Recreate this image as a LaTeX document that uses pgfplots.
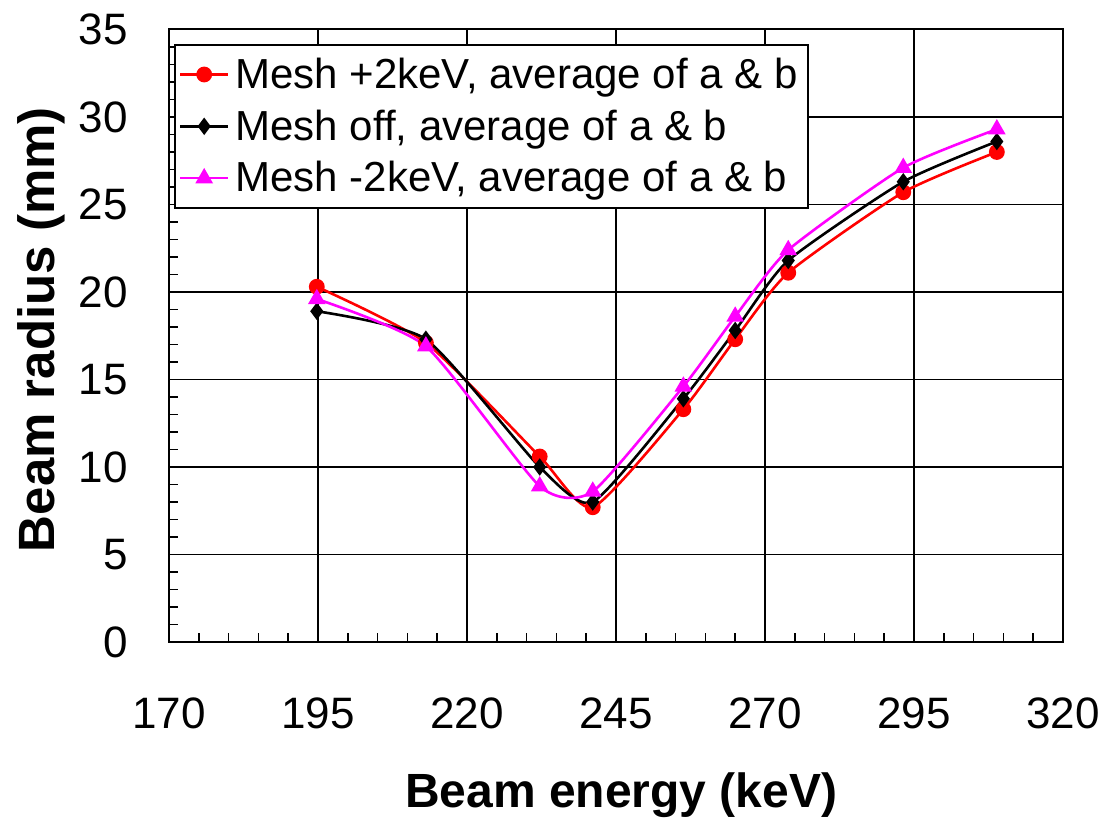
\documentclass[border=0pt]{standalone}
\usepackage{pgfplots}
\pgfplotsset{compat=1.18}
\usepackage{fontspec}
\setmainfont{Liberation Sans}
\definecolor{meshmag}{RGB}{255,0,255}
\definecolor{meshred}{RGB}{255,0,0}

\begin{document}
\begin{tikzpicture}
\begin{axis}[
	scale only axis,
	width=447pt, height=306.25pt,
	xmin=170, xmax=320, ymin=0, ymax=35,
	xtick={170,195,...,320}, ytick={0,5,...,35},
	minor x tick num=4, minor y tick num=4,
	tick pos=left, tick align=inside,
	major tick length=0pt, minor tick length=4.5pt,
	every tick/.style={black, line width=0.8pt},
	grid=major,
	major grid style={black, line width=0.7pt},
	axis line style={black, line width=1pt},
	/pgf/number format/assume math mode=true,
	tick label style={font=\fontsize{22}{26}\selectfont, inner sep=0pt},
	xticklabel shift=27.5pt,
	yticklabel shift=20.5pt,
	xlabel={Beam energy (keV)},
	ylabel={Beam radius (mm)},
	xlabel style={font=\fontsize{24}{28}\selectfont\bfseries, inner sep=0pt,
		at={(axis description cs:0.506,-0.212)}, anchor=north},
	ylabel style={font=\fontsize{25.5}{30}\selectfont\bfseries, inner sep=0pt,
		at={(axis description cs:-0.17,0.51)}, anchor=north},
	legend style={at={(axis description cs:0.0056,0.977)}, anchor=north west,
		draw=black, line width=1pt, fill=white,
		font=\fontsize{21}{25}\selectfont,
		inner sep=2pt, nodes={inner xsep=3pt, inner ysep=4.6pt}},
	legend image code/.code={
		\draw[mark repeat=2,mark phase=2] plot coordinates {(0cm,0cm) (0.42cm,0cm) (0.84cm,0cm)};},
	legend cell align=left,
]

\addplot [meshred, line width=1.3pt, smooth, tension=0.35, mark=*, mark size=3.3pt] table {
energy	radius
194.8	20.3
213.1	17.1
232.2	10.6
241.1	7.7
256.3	13.3
265.0	17.3
273.9	21.1
293.2	25.7
308.9	28.0
};
\addlegendentry{Mesh +2keV, average of a \& b}

\addplot [black, line width=1.3pt, smooth, tension=0.35, mark=diamond*, mark size=3.3pt] table {
energy	radius
194.8	18.9
213.1	17.3
232.2	10.0
241.1	8.0
256.3	13.9
265.0	17.8
273.9	21.8
293.2	26.3
308.9	28.6
};
\addlegendentry{Mesh off, average of a \& b}

\addplot [meshmag, line width=1.3pt, smooth, tension=0.35, mark=triangle*, mark size=3.8pt] table {
energy	radius
194.8	19.6
213.1	16.9
232.2	8.9
241.1	8.6
256.3	14.6
265.0	18.6
273.9	22.4
293.2	27.1
308.9	29.3
};
\addlegendentry{Mesh -2keV, average of a \& b}

\end{axis}
\pgfresetboundingbox
\path (current axis.south west) ++(-84.5pt,-90.5pt) rectangle ([xshift=20.5pt,yshift=14.75pt]current axis.north east);
\end{tikzpicture}
\end{document}
